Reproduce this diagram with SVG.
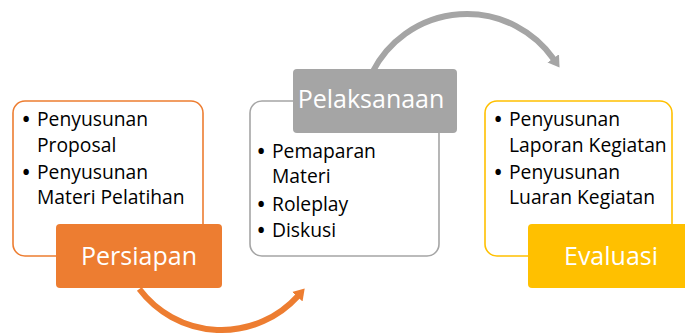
<svg xmlns="http://www.w3.org/2000/svg" width="685" height="336" viewBox="0 0 685 336">
<style>
.frame{fill:#fff;stroke-width:1.6}
.body{font-family:"Open Sans","Noto Sans",sans-serif;font-size:19.3px;fill:#000}
.bul{font-weight:bold;text-anchor:middle}
.title{font-family:"Open Sans","Noto Sans",sans-serif;font-size:25px;fill:#fff;text-anchor:middle}
.arc{fill:none;stroke-width:6}
</style>
<defs>
<marker id="ahO" markerUnits="userSpaceOnUse" markerWidth="20" markerHeight="20" viewBox="0 -10 20 20" refX="1" refY="0" orient="auto"><path d="M0,-7 L11,0 L0,7 z" fill="#ED7D31"/></marker>
<marker id="ahG" markerUnits="userSpaceOnUse" markerWidth="20" markerHeight="20" viewBox="0 -10 20 20" refX="1" refY="0" orient="auto"><path d="M0,-7 L11,0 L0,7 z" fill="#A5A5A5"/></marker>
</defs>
<rect width="685" height="336" fill="#fff"/>
<g id="connectors">
<path class="arc" d="M139.3,289 A103,103 0 0 0 298,296" stroke="#ED7D31" marker-end="url(#ahO)"/>
<path class="arc" d="M372.5,72 A106,106 0 0 1 553.8,59.2" stroke="#A5A5A5" marker-end="url(#ahG)"/>
</g>
<g id="persiapan">
<rect class="frame" x="13" y="101" width="190" height="155" rx="12" stroke="#ED7D31"/>
<text class="body"><tspan class="bul" x="26" y="126">•</tspan><tspan x="37" y="126">Penyusunan</tspan><tspan x="37" y="152">Proposal</tspan><tspan class="bul" x="26" y="179">•</tspan><tspan x="37" y="179">Penyusunan</tspan><tspan x="37" y="204">Materi Pelatihan</tspan></text>
<rect x="56" y="224" width="166" height="64" rx="4" fill="#ED7D31"/>
<text class="title" x="139" y="265">Persiapan</text>
</g>
<g id="pelaksanaan">
<rect class="frame" x="250" y="101" width="189" height="155" rx="12" stroke="#A5A5A5"/>
<text class="body"><tspan class="bul" x="261" y="158">•</tspan><tspan x="272" y="158">Pemaparan</tspan><tspan x="272" y="183">Materi</tspan><tspan class="bul" x="261" y="211">•</tspan><tspan x="272" y="211">Roleplay</tspan><tspan class="bul" x="261" y="237">•</tspan><tspan x="272" y="237">Diskusi</tspan></text>
<rect x="293" y="69" width="164" height="64" rx="4" fill="#A5A5A5"/>
<text class="title" x="371" y="108">Pelaksanaan</text>
</g>
<g id="evaluasi">
<rect class="frame" x="485" y="101" width="187" height="155" rx="12" stroke="#FFC000"/>
<text class="body"><tspan class="bul" x="498" y="126">•</tspan><tspan x="509" y="126">Penyusunan</tspan><tspan x="509" y="152">Laporan Kegiatan</tspan><tspan class="bul" x="498" y="179">•</tspan><tspan x="509" y="179">Penyusunan</tspan><tspan x="509" y="204">Luaran Kegiatan</tspan></text>
<rect x="528" y="224" width="166" height="64" rx="4" fill="#FFC000"/>
<text class="title" x="611" y="265">Evaluasi</text>
</g>
</svg>
